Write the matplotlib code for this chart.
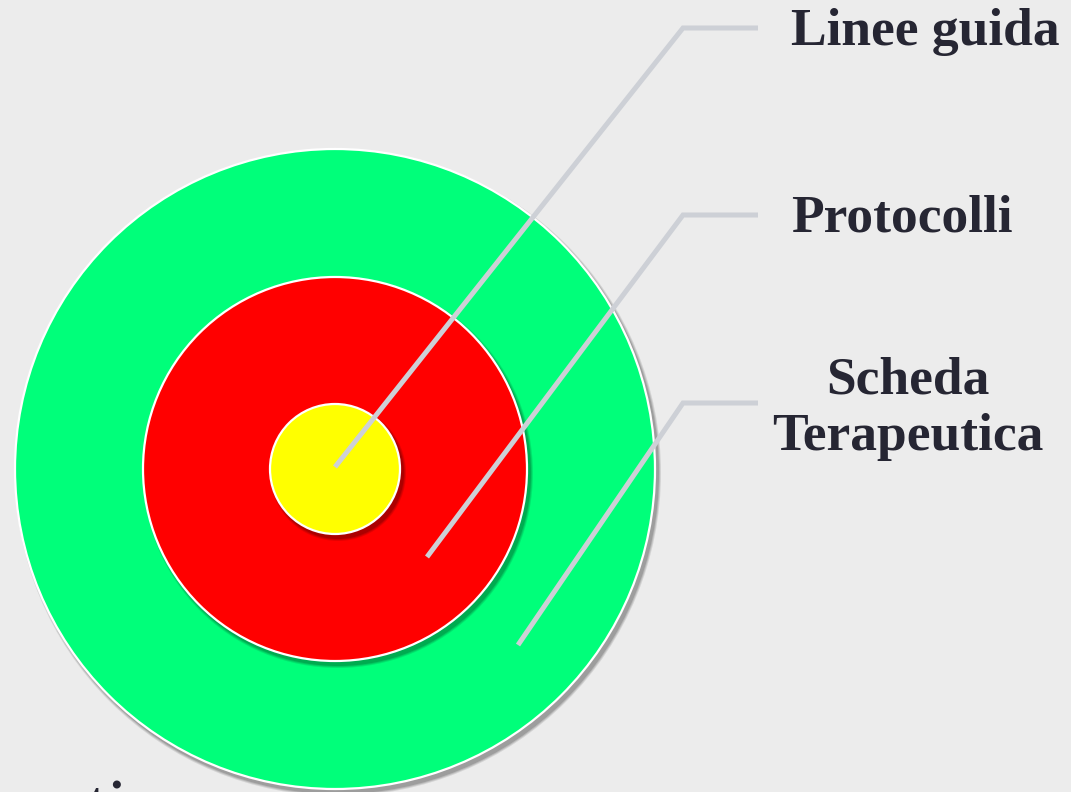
import matplotlib.pyplot as plt
from matplotlib.patches import Circle

# Livelli del bersaglio (dall'esterno all'interno)
livelli = ['Scheda\nTerapeutica', 'Protocolli', 'Linee guida']
raggi = [320, 192, 65]
colori = ['#00ff7a', '#ff0000', '#ffff00']

W, H = 1071, 792
cx, cy = 335, 469

fig = plt.figure(figsize=(W / 100, H / 100), dpi=100)
fig.patch.set_facecolor('#ececec')
ax = fig.add_axes([0, 0, 1, 1])
ax.set_xlim(0, W)
ax.set_ylim(H, 0)
ax.set_aspect('equal')
ax.axis('off')

# Cerchi con ombra e bordo bianco
for r, c in zip(raggi, colori):
    for k, a in enumerate([0.10, 0.12, 0.15]):
        ax.add_patch(Circle((cx + 3, cy + 4), r + 3 - k, color='black', alpha=a, lw=0))
    ax.add_patch(Circle((cx, cy), r, facecolor=c, edgecolor='white', lw=1.6))

# Linee di richiamo ed etichette
punti = [(518, 645), (427, 557), (335, 467)]
y_etichetta = [403, 215, 28]
x_testo = [908, 902, 925]
y_testo = [393, 232, 45]
for lab, (px, py), ly, tx, ty in zip(livelli, punti, y_etichetta, x_testo, y_testo):
    ax.plot([px, 683, 758], [py, ly, ly], color='#cdd0d6', lw=3.6,
            solid_capstyle='butt', solid_joinstyle='miter', zorder=5)
    for i, riga in enumerate(lab.split('\n')):
        ax.text(tx, ty + 57 * i, riga, ha='center', va='baseline', fontsize=38.5,
                fontweight='bold', family='Liberation Serif', color='#262633',
                zorder=6)

# Testo tagliato in basso
ax.text(86, 779, 'ti', ha='left', va='top', fontsize=54,
        family='Liberation Serif', color='#262633', zorder=6)

fig.savefig('out.png', dpi=100, facecolor=fig.get_facecolor())
